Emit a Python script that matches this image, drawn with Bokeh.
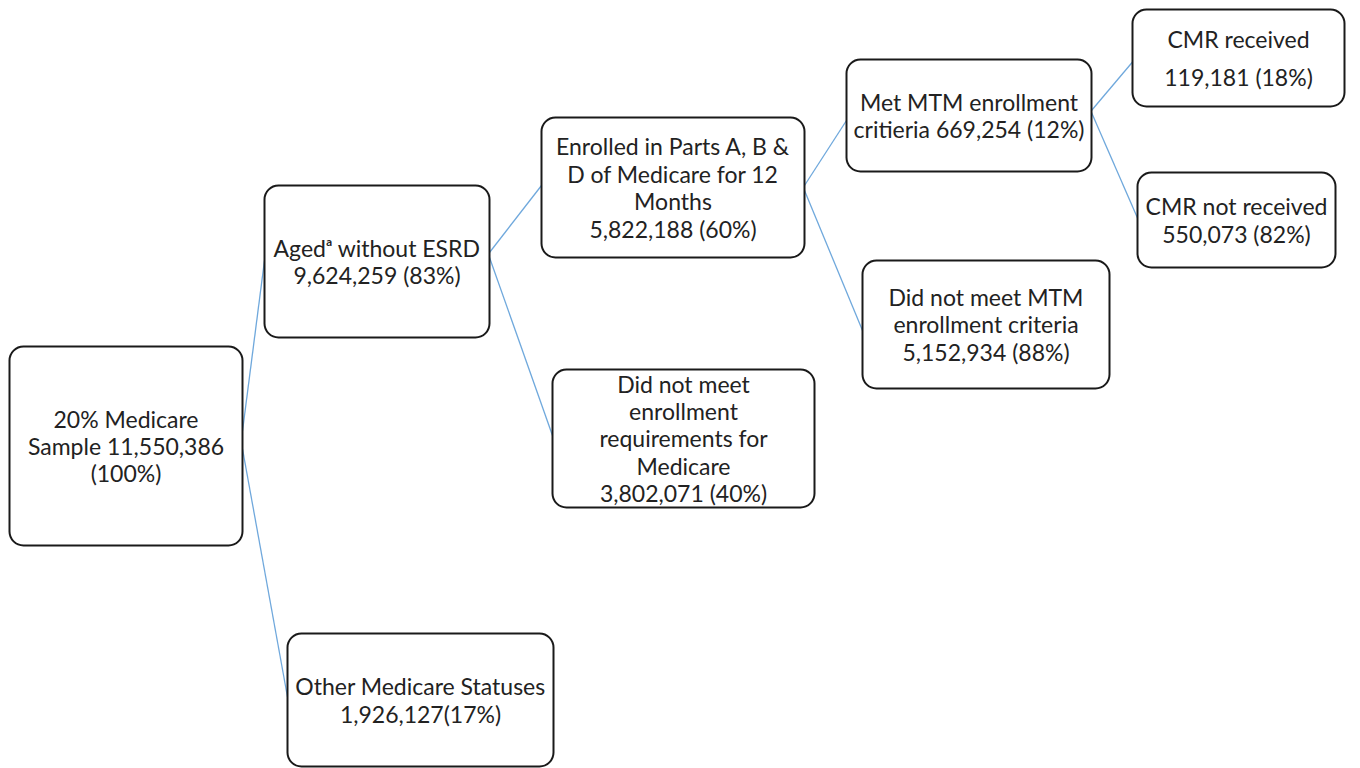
from bokeh.plotting import figure
from bokeh.models import Range1d, ColumnDataSource
from bokeh.core.properties import value
from bokeh.embed import file_html
from bokeh.resources import INLINE

# ---- data ----
node_titles = [
    "20% Medicare\nSample",
    "Aged\u1d43 without ESRD",
    "Enrolled in Parts A, B &\nD of Medicare for 12\nMonths",
    "Did not meet\nenrollment\nrequirements for\nMedicare",
    "Other Medicare Statuses",
    "Met MTM enrollment\ncritieria",
    "Did not meet MTM\nenrollment criteria",
    "CMR received",
    "CMR not received",
]
node_counts = [11550386, 9624259, 5822188, 3802071, 1926127, 669254, 5152934, 119181, 550073]
node_pcts = [100, 83, 60, 40, 17, 12, 88, 18, 82]
sep_count = [" ", "\n", "\n", "\n", "\n", " ", "\n", "\n", "\n"]
sep_pct = ["\n", " ", " ", " ", "", " ", " ", " ", " "]
edges = [(0, 1), (0, 4), (1, 2), (1, 3), (2, 5), (2, 6), (5, 7), (5, 8)]

# ---- layout (screen pixels) ----
box_left = [9, 264, 541, 552, 287, 846, 862, 1132, 1137]
box_right = [242, 489, 804, 814, 553, 1091, 1109, 1344, 1335]
box_top = [346, 185, 117, 369, 633, 59, 260, 9, 172]
box_bottom = [545, 337, 257, 507, 766, 171, 388, 106, 267]
edge_start_dy = [-15, 3, -9, -4, -2, 3, -5, -3]
edge_end_dy = [-1, -3, -2, -3, 5, 6, 4, -2]

texts = [t + sc + f"{c:,}" + sp + f"({p}%)"
         for t, c, p, sc, sp in zip(node_titles, node_counts, node_pcts, sep_count, sep_pct)]

W, H = 1360, 768
p = figure(width=W, height=H, output_backend="svg", toolbar_location=None,
           x_range=Range1d(0, W), y_range=Range1d(H, 0),
           min_border=0)
p.axis.visible = False
p.grid.visible = False
p.outline_line_color = None
p.background_fill_color = "white"

# connectors
xs, ys = [], []
for (a, b), sdy, edy in zip(edges, edge_start_dy, edge_end_dy):
    ya = (box_top[a] + box_bottom[a]) / 2 + sdy
    yb = (box_top[b] + box_bottom[b]) / 2 + edy
    xs.append([box_right[a], box_left[b]])
    ys.append([ya, yb])
p.multi_line(xs=xs, ys=ys, line_color="#6FA8DC", line_width=1.3)

# boxes
src = ColumnDataSource(dict(left=box_left, right=box_right, top=box_top, bottom=box_bottom))
p.quad(left="left", right="right", top="top", bottom="bottom", source=src,
       fill_color="white", line_color="#1a1a1a", line_width=2, border_radius=14)

# texts
cx = [(l + r) / 2 for l, r in zip(box_left, box_right)]
cy = [(t + b) / 2 for t, b in zip(box_top, box_bottom)]
idx_main = [i for i in range(len(texts)) if i != 7]
tsrc = ColumnDataSource(dict(x=[cx[i] for i in idx_main], y=[cy[i] for i in idx_main],
                             text=[texts[i] for i in idx_main]))
p.text(x="x", y="y", text="text", source=tsrc, text_align="center", text_baseline="middle",
       text_font=value("Lato"), text_font_size="23px", text_color="#222222",
       text_line_height=0.98)
tsrc2 = ColumnDataSource(dict(x=[cx[7]], y=[cy[7]], text=[texts[7]]))
p.text(x="x", y="y", text="text", source=tsrc2, text_align="center", text_baseline="middle",
       text_font=value("Lato"), text_font_size="23px", text_color="#222222",
       text_line_height=1.39)

open("out.html", "w").write(file_html(p, INLINE))
